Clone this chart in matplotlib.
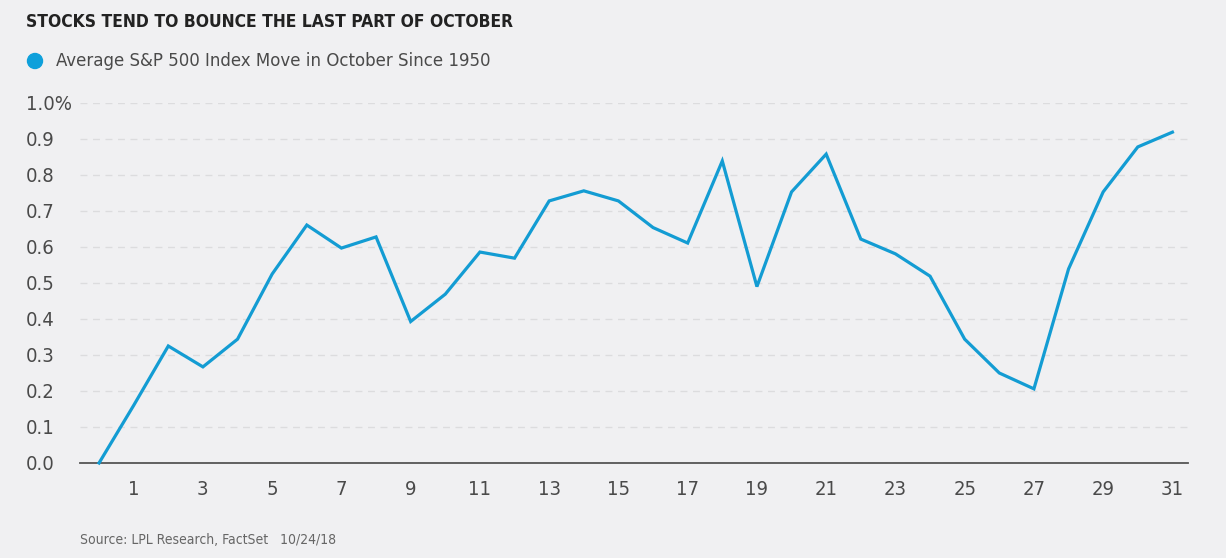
import matplotlib
matplotlib.use("Agg")
import matplotlib.pyplot as plt
import matplotlib.patches as mpatches

# trading day of October, and the average S&P 500 move (%)
days = list(range(0, 32))
avg_move = [0.00, 0.16, 0.325, 0.267, 0.344, 0.525, 0.661, 0.597, 0.628, 0.393,
            0.469, 0.586, 0.569, 0.728, 0.756, 0.728, 0.654, 0.611, 0.839, 0.490,
            0.753, 0.858, 0.622, 0.581, 0.519, 0.344, 0.250, 0.206, 0.539, 0.753,
            0.878, 0.919]
x_ticks = list(range(1, 32, 2))
y_ticks = [0.0, 0.1, 0.2, 0.3, 0.4, 0.5, 0.6, 0.7, 0.8, 0.9, 1.0]
y_labels = ["0.0", "0.1", "0.2", "0.3", "0.4", "0.5", "0.6", "0.7", "0.8", "0.9", "1.0%"]

bg = "#f0f0f2"
blue = "#139cd3"
grey = "#4a4a4a"
plt.rcParams["font.family"] = ["DejaVu Sans"]
plt.rcParams["font.stretch"] = "condensed"

fig = plt.figure(figsize=(12.26, 5.58), dpi=100)
fig.patch.set_facecolor(bg)
ax = fig.add_axes([80 / 1226, 1 - 463 / 558, 1108 / 1226, 360 / 558])
ax.set_facecolor(bg)

ax.plot(days, avg_move, color=blue, lw=2.3, clip_on=False, solid_joinstyle="miter", zorder=3)

ax.set_xlim(-0.55, 31.45)
ax.set_ylim(0, 1.0)
ax.set_xticks(x_ticks)
ax.set_yticks(y_ticks)
ax.set_yticklabels(y_labels)
ax.tick_params(axis="both", length=0, labelsize=14.5, colors=grey)
ax.tick_params(axis="x", pad=12)
ax.tick_params(axis="y", pad=39)
for lab in ax.get_yticklabels() + ax.get_xticklabels():
    lab.set_fontstretch("condensed")
for lab in ax.get_yticklabels():
    lab.set_horizontalalignment("left")

ax.grid(axis="y", color="#dcdcde", lw=1, ls=(0, (5, 4)))
for s in ["top", "right", "left"]:
    ax.spines[s].set_visible(False)
ax.spines["bottom"].set_color("#555555")
ax.spines["bottom"].set_linewidth(1.3)
ax.spines["bottom"].set_zorder(2)

fig.text(26 / 1226, 1 - 22 / 558, "STOCKS TEND TO BOUNCE THE LAST PART OF OCTOBER",
         fontsize=12.5, fontweight="bold", color="#222222", va="center", ha="left")
fig.patches.append(mpatches.Ellipse((35 / 1226, 1 - 61 / 558), 15 / 1226, 15 / 558,
                                    transform=fig.transFigure, color="#0ea0db"))
fig.text(56 / 1226, 1 - 61 / 558, "Average S&P 500 Index Move in October Since 1950",
         fontsize=13.3, color=grey, va="center", ha="left")
fig.text(80 / 1226, 1 - 540 / 558, "Source: LPL Research, FactSet   10/24/18",
         fontsize=10, color="#666666", va="center", ha="left")

fig.savefig("out.png", dpi=100, facecolor=bg)
